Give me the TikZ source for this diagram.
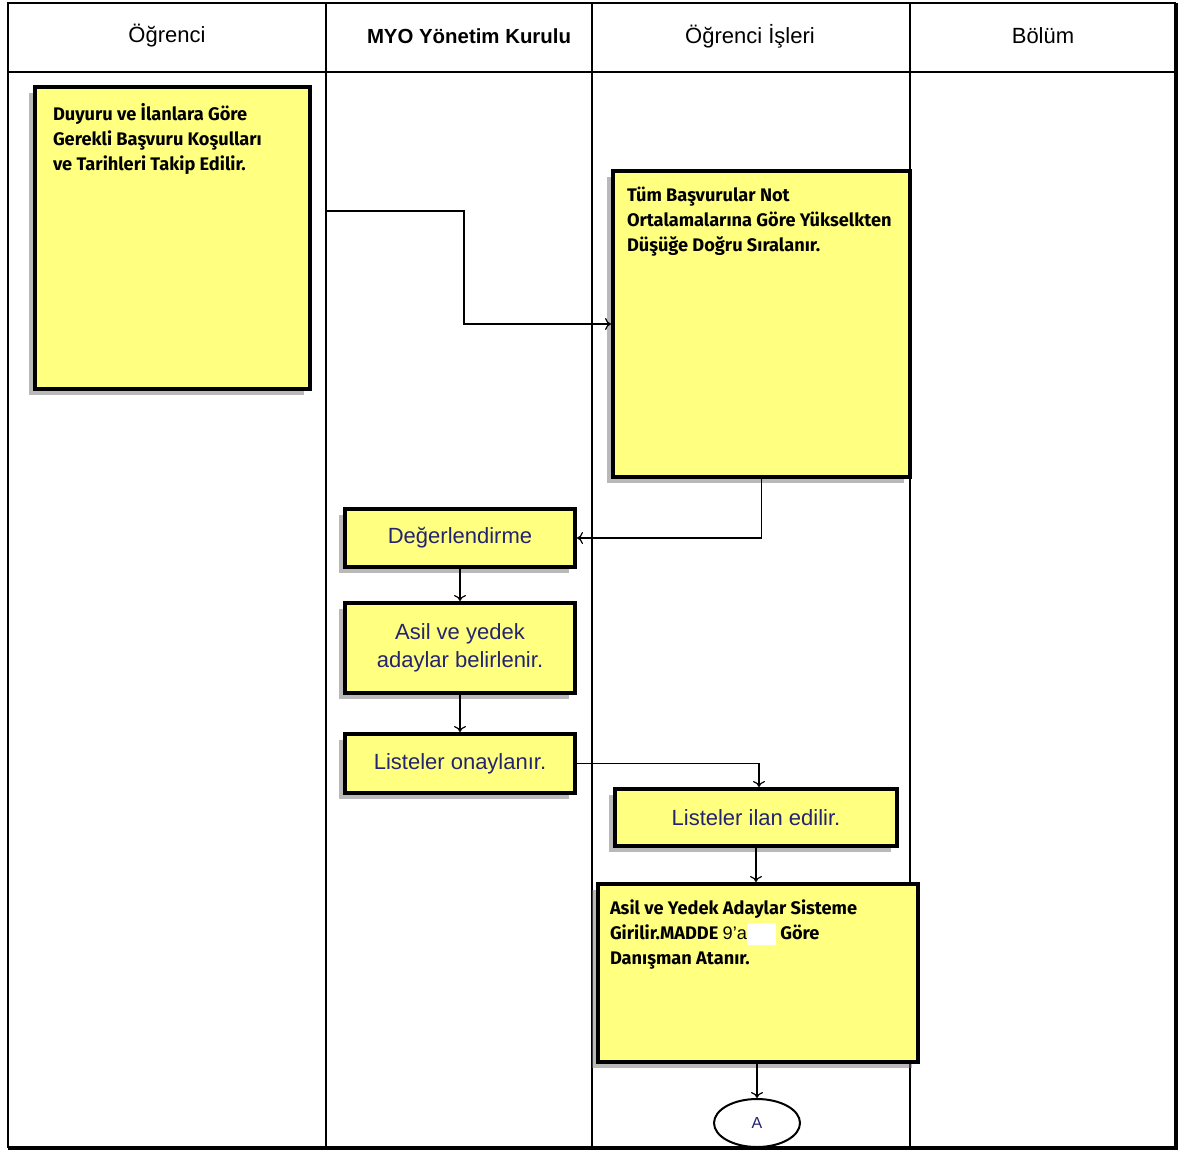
\documentclass[tikz,border=0pt]{standalone}
\usepackage{fontspec}
\setmainfont{Liberation Sans}
\newfontfamily\kutufont{Fira Sans}
\usetikzlibrary{shapes.geometric, shadows, arrows.meta}
\definecolor{kutusari}{RGB}{255,255,128}
\definecolor{lacivert}{RGB}{36,36,112}

\begin{document}
\begin{tikzpicture}[x=0.5pt, y=-0.5pt,
    serit/.style={line width=0.6pt},
    baslik/.style={font=\fontsize{11pt}{13pt}\selectfont},
    kutu/.style={draw, line width=2pt, fill=kutusari,
      drop shadow={shadow xshift=-3pt, shadow yshift=-3pt, fill=black!55, opacity=.5}},
    adim/.style={kutu, minimum width=115pt, text=lacivert, align=center,
      font=\fontsize{11pt}{14pt}\selectfont},
    notkutu/.style={kutu, anchor=north west, inner ysep=8pt,
      font=\kutufont\bfseries\fontsize{9.1pt}{12.5pt}\selectfont},
    ok/.style={-{To[length=3pt,width=6pt]}, line width=0.6pt}]
  \useasboundingbox (0,0) rectangle (1182,1151);

  % seritler
  \draw[serit] (326,3) -- (326,1148) (592,3) -- (592,1148) (910,3) -- (910,1148);
  \draw[serit] (8,72) -- (1176,72);
  \node[baslik] (h1) at (167,36) {Öğrenci};
  \node[baslik, font=\bfseries\fontsize{10.2pt}{13pt}\selectfont] (h2) at (469,36) {MYO Yönetim Kurulu};
  \node[baslik] (h3) at (750,36) {Öğrenci İşleri};
  \node[baslik] (h4) at (1043,36) {Bölüm};

  % kutular
  \node[notkutu, inner xsep=9pt] (duyuru) at (33,85)
    {\begin{minipage}[t][135pt][t]{119.5pt}\raggedright
     Duyuru ve İlanlara Göre\\Gerekli Başvuru Koşulları\\ve Tarihleri Takip Edilir.\end{minipage}};
  \node[notkutu, inner xsep=7pt] (tum) at (611,169)
    {\begin{minipage}[t][137pt][t]{134.5pt}\raggedright
     Tüm Başvurular Not\\Ortalamalarına Göre Yükselkten\\Düşüğe Doğru Sıralanır.\end{minipage}};
  \node[adim, minimum height=29pt] (deg) at (460,538) {Değerlendirme};
  \node[adim, minimum height=45pt] (asil) at (460,648) {Asil ve yedek\\adaylar belirlenir.};
  \node[adim, minimum height=29.5pt] (onay) at (460,763.5) {Listeler onaylanır.};
  \node[adim, minimum width=141pt, minimum height=28.5pt] (ilan) at (756,817.5) {Listeler ilan edilir.};
  \node[notkutu, inner xsep=6pt] (atama) at (596,882)
    {\begin{minipage}[t][73pt][t]{148pt}\raggedright
     Asil ve Yedek Adaylar Sisteme\\Girilir.MADDE {\mdseries\rmfamily 9'a}{\setlength\fboxsep{0pt}\colorbox{white}{\rule[-2.5pt]{0pt}{11pt}\hspace{14.5pt}}} Göre\\Danışman Atanır.\end{minipage}};
  \node[draw, ellipse, line width=1pt, fill=white, minimum width=43pt, minimum height=24pt,
    text=lacivert, font=\fontsize{8pt}{9pt}\selectfont] (A) at (757,1123) {A};

  % oklar
  \draw[ok] ([xshift=6.5pt]duyuru.east |- 0,211) -| (464,324) -- (tum.west |- 0,324);
  \draw[ok] (tum.south) |- (deg.east);
  \draw[ok] (deg) -- (asil);
  \draw[ok] (asil) -- (onay);
  \draw[ok] (onay.east) -| ([xshift=1.5pt]ilan.north);
  \draw[ok] (ilan) -- (atama.north -| ilan.south);
  \draw[ok] (atama.south -| A.north) -- (A);

  % cerceve
  \draw[line width=1pt] (8,1148) -- (8,3) -- (1176,3);
  \draw[line width=1.6pt] (1176,3) -- (1176,1148) -- (8,1148);
\end{tikzpicture}
\end{document}
